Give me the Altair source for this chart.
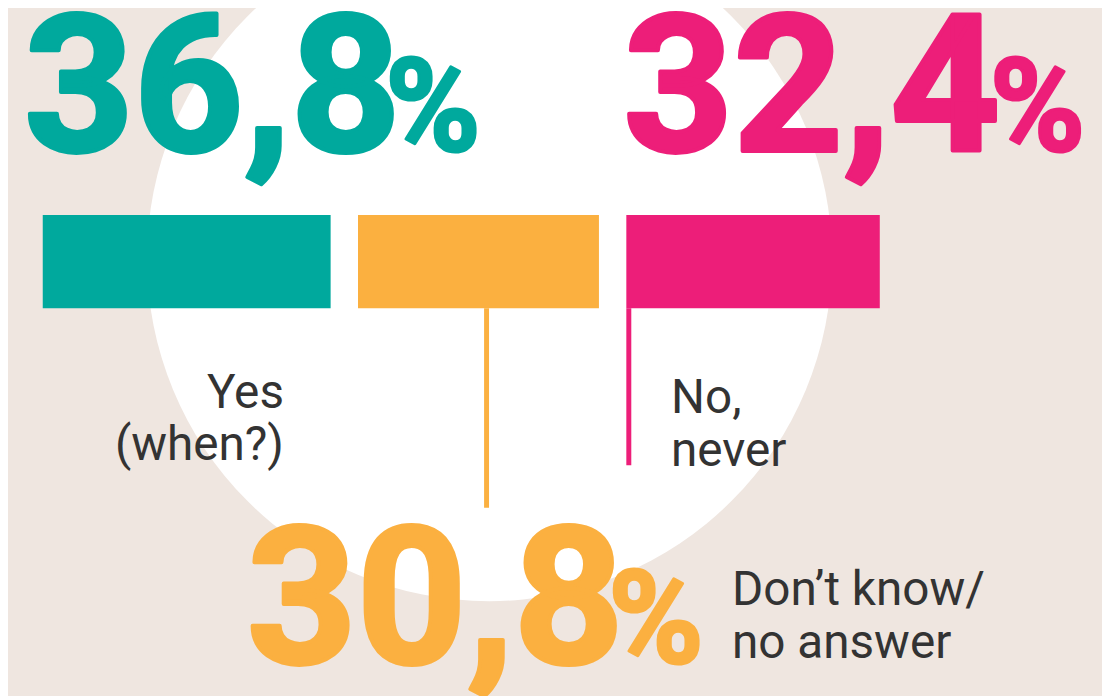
import altair as alt
import pandas as pd

# ---- data -------------------------------------------------------------
categories = ["Yes (when?)", "Don't know/no answer", "No, never"]
values = [36.8, 30.8, 32.4]
value_texts = ["36,8", "30,8", "32,4"]
label_texts = ["Yes\n(when?)", "Don\u2019t know/\nno answer", "No,\nnever"]
colors = ["#00A99D", "#FBB040", "#ED1E79"]

# ---- layout constants ------------------------------------------------
BG = "#EFE6E0"
TEXT = "#333333"
W, H = 1102, 688
PX = 7.88      # pixels per percentage point
X0 = 35        # pixel position of the first bar start
GAP = 3.5      # gap between bars, in percentage points

starts, acc = [], 0.0
for v in values:
    starts.append(acc)
    acc += v + GAP
ends = [s + v for s, v in zip(starts, values)]

df = pd.DataFrame({
    "cat": categories, "value": values, "start": starts, "end": ends,
    "num": value_texts, "label": label_texts,
})

xscale = alt.Scale(domain=[-X0 / PX, (W - X0) / PX], nice=False, zero=False)
cscale = alt.Scale(domain=categories, range=colors)
color = alt.Color("cat:N", scale=cscale, legend=None)
stroke = alt.Stroke("cat:N", scale=cscale, legend=None)

base = alt.Chart(df)

circle = alt.Chart(pd.DataFrame({"c": [1]})).mark_point(
    shape="circle", filled=True, color="white", opacity=1, strokeWidth=0,
    size=690 ** 2,
).encode(x=alt.value(485), y=alt.value(250))

bars = base.mark_bar().encode(
    x=alt.X("start:Q", scale=xscale, axis=None),
    x2="end:Q",
    y=alt.value(206), y2=alt.value(300),
    color=color,
)


def rule(cat, off_px, y2):
    return base.transform_filter(alt.datum.cat == cat).transform_calculate(
        rx=f"datum.start + {off_px / PX}"
    ).mark_rule(strokeWidth=5).encode(
        x=alt.X("rx:Q", scale=xscale, axis=None),
        y=alt.value(300), y2=alt.value(y2),
        color=color,
    )


def number(cat, dx, y, pct_dx):
    b = base.transform_filter(alt.datum.cat == cat)
    n = b.mark_text(font="Roboto", fontWeight="bold", fontSize=193,
                    align="left", baseline="alphabetic", dx=dx,
                    strokeWidth=4, strokeJoin="round").encode(
        x=alt.X("start:Q", scale=xscale, axis=None), y=alt.value(y),
        text="num:N", color=color, stroke=stroke)
    p = b.mark_text(font="Roboto", fontWeight="bold", fontSize=130,
                    align="left", baseline="alphabetic", dx=pct_dx,
                    strokeWidth=3, strokeJoin="round",
                    text="%").encode(
        x=alt.X("start:Q", scale=xscale, axis=None), y=alt.value(y),
        color=color, stroke=stroke)
    return n + p


def label(cat, field, align, dx, y, lh):
    return base.transform_filter(alt.datum.cat == cat).mark_text(
        font="Roboto", fontSize=48, align=align, baseline="alphabetic",
        dx=dx, lineBreak="\n", lineHeight=lh, color=TEXT,
    ).encode(x=alt.X(f"{field}:Q", scale=xscale, axis=None),
             y=alt.value(y), text="label:N")


chart = alt.layer(
    circle,
    bars,
    rule(categories[1], 129.5, 501),
    rule(categories[2], 2.5, 458),
    number(categories[0], -19, 142, 345),
    number(categories[2], -3, 142, 366),
    number(categories[1], -112, 657, 252),
    label(categories[0], "end", "right", -47, 400, 53),
    label(categories[2], "start", "left", 45, 405, 54),
    label(categories[1], "end", "left", 134, 599, 53),
).properties(
    width=W, height=H, padding=0, background=BG,
    autosize=alt.AutoSizeParams(type="none"),
).configure_view(stroke=None)

chart.save("out.html", embed_options={"renderer": "svg", "actions": False})
